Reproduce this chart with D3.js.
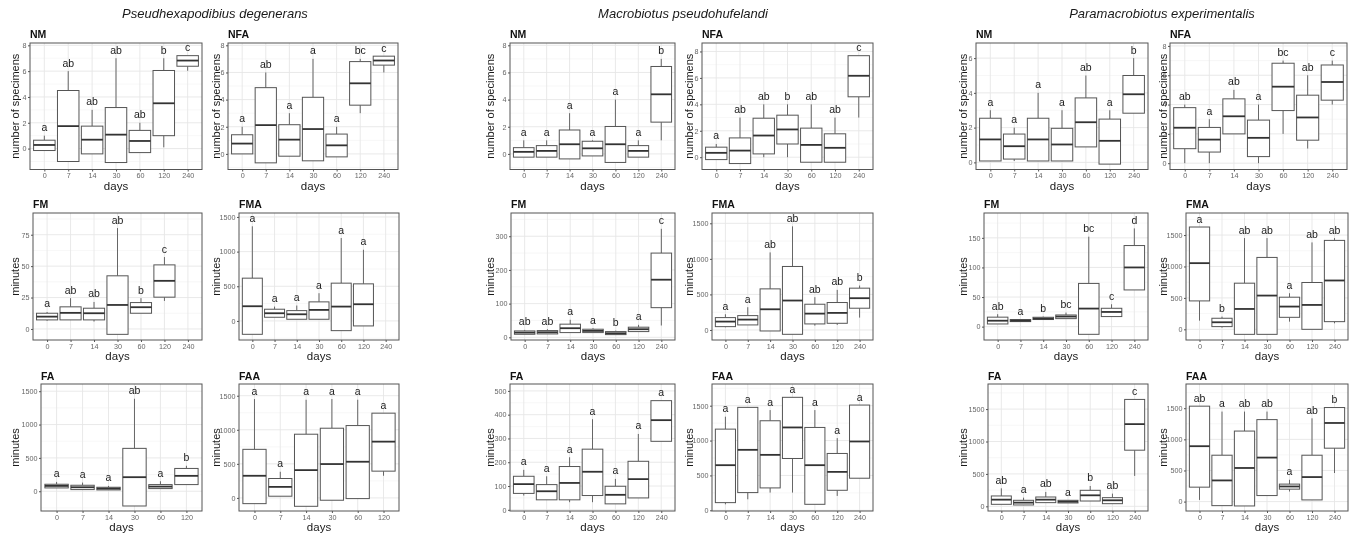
<!DOCTYPE html>
<html><head><meta charset="utf-8">
<script src="https://cdn.jsdelivr.net/npm/d3@7"></script>
<style>
body{margin:0;background:#fff}
svg{display:block;will-change:transform}
text{font-family:"Liberation Sans",Arial,sans-serif}
</style>
</head><body>
<svg id="chart" width="1352" height="538"></svg>
<script>
// ---------------- DATA ----------------
const species = ["Pseudhexapodibius degenerans", "Macrobiotus pseudohufelandi", "Paramacrobiotus experimentalis"];
const days = ["0", "7", "14", "30", "60", "120", "240"];
const days6 = ["0", "7", "14", "30", "60", "120"];
const panelTitles = [["NM", "NFA"], ["FM", "FMA"], ["FA", "FAA"]];
const yTitles = ["number of specimens", "minutes", "minutes"];
const xTitle = "days";

// tick label sets
const ticksN8 = [0, 2, 4, 6, 8];
const ticksN6 = [0, 2, 4, 6];
const ticks25 = [0, 25, 50, 75];
const ticks50 = [0, 50, 100, 150];
const ticks100 = [0, 100, 200, 300];
const ticks100b = [0, 100, 200, 300, 400, 500];
const ticks500 = [0, 500, 1000, 1500];

// each box: [whisker low (null = none), Q1, median, Q3, whisker high (null = none)]
// Pseudhexapodibius degenerans
const pd_NM = [[null,-0.15,0.28,0.65,1.0],[null,-1.0,1.74,4.5,6.0],[null,-0.41,0.69,1.74,3.0],[null,-1.08,1.08,3.18,7.0],[null,-0.31,0.59,1.41,2.0],[0.1,1.0,3.51,6.05,7.0],[6.03,6.38,6.82,7.2,null]];
const pd_NM_let = ["a","ab","ab","ab","ab","b","c"];
const pd_NFA = [[null,0,0.76,1.41,2.0],[null,-0.66,2.12,4.88,6.0],[null,-0.17,1.05,2.15,3.0],[null,-0.51,1.83,4.17,7.0],[null,-0.22,0.63,1.46,2.0],[3.0,3.59,5.2,6.8,7.0],[6.0,6.54,6.88,7.2,null]];
const pd_NFA_let = ["a","ab","a","a","a","bc","c"];
const pd_FM = [[6.5,7.2,9.8,12.5,13.5],[null,7.2,12.8,17.6,24.5],[5.9,7.2,12.5,16.5,21.5],[null,-4.3,19.1,42.3,80.3],[null,12.5,17.3,21,24.5],[22.3,25.3,38.3,51,57.2],null];
const pd_FM_let = ["a","ab","ab","ab","b","c",""];
const pd_FMA = [[null,-193,212,617,1365],[null,53,111,169,207],[null,24,96,149,222],[null,24,159,275,400],[null,-140,207,545,1196],[null,-72,241,535,1027],null];
const pd_FMA_let = ["a","a","a","a","a","a",""];
const pd_FA = [[null,50,80,105,140],[null,25,60,90,130],[null,20,40,60,80],[null,-221,211,643,1387],[null,40,70,100,150],[null,100,231,342,382]];
const pd_FA_let = ["a","a","a","ab","a","b"];
const pd_FAA = [[null,-84,325,713,1451],[null,25,162,285,384],[null,-123,408,935,1441],[null,-34,497,1023,1451],[null,-10,531,1062,1441],[325,393,826,1244,null]];
const pd_FAA_let = ["a","a","a","a","a","a"];

// Macrobiotus pseudohufelandi
const mp_NM = [[null,-0.24,0.15,0.46,1.0],[null,-0.24,0.22,0.61,1.0],[null,-0.37,0.71,1.76,3.0],[null,-0.15,0.41,0.93,1.0],[null,-0.63,0.71,2.02,4.0],[null,-0.24,0.22,0.61,1.0],[1.0,2.34,4.39,6.44,7.0]];
const mp_NM_let = ["a","a","a","a","a","a","b"];
const mp_NFA = [[null,-0.18,0.33,0.76,1.0],[null,-0.48,0.5,1.46,3.0],[0,0.25,1.64,2.95,4.0],[0,1.0,2.1,3.18,4.0],[null,-0.38,0.93,2.2,4.0],[null,-0.38,0.71,1.77,3.0],[3.0,4.57,6.16,7.68,null]];
const mp_NFA_let = ["a","ab","ab","b","ab","ab","c"];
const mp_FM = [[null,9,14,19,22],[null,10,15,20,24],[null,14,27,39,52],[null,14,19,24,27],[null,8,12,17,20],[null,17,24,30,37],[35,88,171,250,322]];
const mp_FM_let = ["ab","ab","a","a","b","a","c"];
const mp_FMA = [[38,47,118,174,221],[null,71,146,202,320],[null,-14,291,578,1091],[null,-61,414,893,1457],[61,85,230,362,461],[71,94,240,386,564],[174,306,447,588,625]];
const mp_FMA_let = ["a","a","ab","ab","ab","ab","b"];
const mp_FA = [[60,69,108,141,168],[null,42,78,106,141],[32,42,113,182,221],[32,60,160,255,381],[null,25,63,99,130],[null,50,129,204,319],[null,288,377,459,null]];
const mp_FA_let = ["a","a","a","a","a","a","a"];
const mp_FAA = [[86,110,647,1164,1342],[158,254,867,1476,null],[254,321,795,1284,1437],[254,743,1188,1620,null],[null,86,647,1188,1437],[206,287,551,815,1035],[null,460,987,1509,null]];
const mp_FAA_let = ["a","a","a","a","a","a","a"];

// Paramacrobiotus experimentalis
const pe_NM = [[null,0.08,1.32,2.54,3.0],[0.08,0.19,0.93,1.63,2.0],[null,0.08,1.32,2.54,4.0],[null,0.08,1.03,1.96,3.0],[null,0.89,2.31,3.71,5.0],[null,-0.1,1.24,2.49,3.0],[null,2.83,3.92,5.0,6.0]];
const pe_NM_let = ["a","a","a","a","ab","a","b"];
const pe_NFA = [[0,0.99,2.42,3.79,4.0],[0,0.76,1.61,2.44,3.0],[null,2.0,3.2,4.39,5.0],[0,0.45,1.73,2.94,4.0],[2.0,3.59,5.22,6.82,7.0],[1.0,1.57,3.12,4.64,6.0],[4.0,4.3,5.54,6.7,7.0]];
const pe_NFA_let = ["ab","a","ab","a","bc","ab","c"];
const pe_FM = [[null,4.5,10,16,21],[null,8.5,10,12,null],[null,12,13.5,15.8,17],[null,13.5,17,19.7,23.7],[null,-13,30.5,73,152],[null,17,24.8,31,37.8],[null,62,100,137,166]];
const pe_FM_let = ["ab","a","b","bc","bc","c","d"];
const pe_FMA = [[138,452,1053,1628,null],[27,43,112,176,202],[null,-80,324,734,1452],[null,-80,537,1144,1452],[122,191,362,511,574],[null,0,388,745,1383],[96,122,777,1415,1452]];
const pe_FMA_let = ["a","b","ab","ab","a","ab","ab"];
const pe_FA = [[null,31,103,160,278],[null,21,57,93,134],[null,57,103,144,222],[null,52,72,93,null],[null,82,170,247,314],[null,41,93,134,196],[469,866,1268,1649,null]];
const pe_FA_let = ["ab","a","ab","a","b","ab","c"];
const pe_FAA = [[27,232,890,1533,null],[null,-65,340,745,1446],[null,-70,540,1133,1446],[null,97,707,1317,1446],[162,200,243,281,351],[null,27,394,745,1338],[459,858,1263,1511,null]];
const pe_FAA_let = ["ab","a","ab","ab","a","ab","b"];

// ---------------- LAYOUT ----------------
const rows = [
  {top: 43, bottom: 169.5, titleY: 37.5},
  {top: 213, bottom: 340, titleY: 207.5},
  {top: 384, bottom: 511, titleY: 379.5}
];
const panelX = [
  [[30,202],[228,398],[510,675],[702,873],[976,1148],[1170,1347]],
  [[33,202],[239,399],[511,675],[712,873],[984,1148],[1186,1348]],
  [[41,202],[239,399],[510,675],[712,873],[988,1148],[1186,1348]]
];
const yTitleX = [15, 216, 490, 689, 963, 1163];
const speciesX = [215, 683, 1162];

const panels = [
  // row 0
  {row:0,col:0,data:pd_NM, lab:pd_NM_let, cats:days, dom:[-1.62,8.18], ticks:ticksN8},
  {row:0,col:1,data:pd_NFA,lab:pd_NFA_let,cats:days, dom:[-1.15,8.17], ticks:ticksN8},
  {row:0,col:2,data:mp_NM, lab:mp_NM_let, cats:days, dom:[-1.15,8.17], ticks:ticksN8},
  {row:0,col:3,data:mp_NFA,lab:mp_NFA_let,cats:days, dom:[-0.93,8.64], ticks:ticksN8},
  {row:0,col:4,data:pe_NM, lab:pe_NM_let, cats:days, dom:[-0.41,6.87], ticks:ticksN6},
  {row:0,col:5,data:pe_NFA,lab:pe_NFA_let,cats:days, dom:[-0.43,8.2], ticks:ticksN8},
  // row 1
  {row:1,col:0,data:pd_FM, lab:pd_FM_let, cats:days, dom:[-8.8,92.3], ticks:ticks25},
  {row:1,col:1,data:pd_FMA,lab:pd_FMA_let,cats:days, dom:[-275,1557], ticks:ticks500},
  {row:1,col:2,data:mp_FM, lab:mp_FM_let, cats:days, dom:[-8,369], ticks:ticks100},
  {row:1,col:3,data:mp_FMA,lab:mp_FMA_let,cats:days, dom:[-141,1645], ticks:ticks500},
  {row:1,col:4,data:pe_FM, lab:pe_FM_let, cats:days, dom:[-22.6,192], ticks:ticks50},
  {row:1,col:5,data:pe_FMA,lab:pe_FMA_let,cats:days, dom:[-170,1851], ticks:ticks500},
  // row 2
  {row:2,col:0,data:pd_FA, lab:pd_FA_let, cats:days6,dom:[-296,1608], ticks:ticks500},
  {row:2,col:1,data:pd_FAA,lab:pd_FAA_let,cats:days6,dom:[-192,1672], ticks:ticks500},
  {row:2,col:2,data:mp_FA, lab:mp_FA_let, cats:days, dom:[-5,529], ticks:ticks100b},
  {row:2,col:3,data:mp_FAA,lab:mp_FAA_let,cats:days, dom:[-10,1811], ticks:ticks500},
  {row:2,col:4,data:pe_FA, lab:pe_FA_let, cats:days, dom:[-72,1887], ticks:ticks500},
  {row:2,col:5,data:pe_FAA,lab:pe_FAA_let,cats:days, dom:[-151,1889], ticks:ticks500}
];

// ---------------- DRAW ----------------
const svg = d3.select("#chart");
svg.append("rect").attr("width",1352).attr("height",538).attr("fill","#fff");

species.forEach((s,i) => {
  svg.append("text").attr("x", speciesX[i]).attr("y", 18)
    .attr("text-anchor","middle").attr("font-size", 13).attr("font-style","italic")
    .attr("fill","#1a1a1a").text(s);
});

panels.forEach(p => {
  const r = rows[p.row];
  const [x0, x1] = panelX[p.row][p.col];
  const x = d3.scalePoint().domain(p.cats).range([x0, x1]).padding(0.6);
  const y = d3.scaleLinear().domain(p.dom).range([r.bottom, r.top]);
  const g = svg.append("g");
  const bw = x.step() * 0.9;

  // grid
  const step = p.ticks[1] - p.ticks[0];
  const minor = [];
  for (let v = p.ticks[0] - step / 2; v <= p.dom[1]; v += step) if (v >= p.dom[0]) minor.push(v);
  g.selectAll(".mn").data(minor).join("line")
    .attr("x1", x0).attr("x2", x1).attr("y1", d => y(d)).attr("y2", d => y(d))
    .attr("stroke", "#f2f2f2").attr("stroke-width", 0.6);
  g.selectAll(".mj").data(p.ticks.filter(t => t >= p.dom[0] && t <= p.dom[1])).join("line")
    .attr("x1", x0).attr("x2", x1).attr("y1", d => y(d)).attr("y2", d => y(d))
    .attr("stroke", "#e6e6e6").attr("stroke-width", 0.9);
  g.selectAll(".vx").data(p.cats).join("line")
    .attr("x1", d => x(d)).attr("x2", d => x(d)).attr("y1", r.top).attr("y2", r.bottom)
    .attr("stroke", "#e6e6e6").attr("stroke-width", 0.9);

  // boxes
  const items = p.data.map((d, i) => ({d, c: p.cats[i], l: p.lab[i]})).filter(o => o.d);
  const bg = g.selectAll(".bx").data(items).join("g");
  bg.filter(o => o.d[4] !== null).append("line")
    .attr("x1", o => x(o.c)).attr("x2", o => x(o.c))
    .attr("y1", o => y(o.d[3])).attr("y2", o => y(o.d[4]))
    .attr("stroke", "#666").attr("stroke-width", 1);
  bg.filter(o => o.d[0] !== null).append("line")
    .attr("x1", o => x(o.c)).attr("x2", o => x(o.c))
    .attr("y1", o => y(o.d[1])).attr("y2", o => y(o.d[0]))
    .attr("stroke", "#666").attr("stroke-width", 1);
  bg.append("rect")
    .attr("x", o => x(o.c) - bw / 2).attr("width", bw)
    .attr("y", o => y(o.d[3])).attr("height", o => Math.max(1, y(o.d[1]) - y(o.d[3])))
    .attr("fill", "#fff").attr("stroke", "#555").attr("stroke-width", 1);
  bg.append("line")
    .attr("x1", o => x(o.c) - bw / 2).attr("x2", o => x(o.c) + bw / 2)
    .attr("y1", o => y(o.d[2])).attr("y2", o => y(o.d[2]))
    .attr("stroke", "#333").attr("stroke-width", 1.8);
  bg.append("text")
    .attr("x", o => x(o.c))
    .attr("y", o => y(o.d[4] !== null ? Math.max(o.d[4], o.d[3]) : o.d[3]) - 4.5)
    .attr("text-anchor", "middle").attr("font-size", 10.5).attr("fill", "#1a1a1a")
    .text(o => o.l);

  // border
  g.append("rect").attr("x", x0).attr("y", r.top).attr("width", x1 - x0).attr("height", r.bottom - r.top)
    .attr("fill", "none").attr("stroke", "#555").attr("stroke-width", 1);

  // axes
  const ax = g.append("g").attr("transform", `translate(0,${r.bottom})`)
    .call(d3.axisBottom(x).tickSize(2).tickPadding(1.5));
  const ay = g.append("g").attr("transform", `translate(${x0},0)`)
    .call(d3.axisLeft(y).tickValues(p.ticks).tickSize(2).tickPadding(1.5).tickFormat(d3.format("d")));
  [ax, ay].forEach(a => {
    a.select(".domain").remove();
    a.selectAll(".tick line").attr("stroke", "#555");
    a.selectAll(".tick text").attr("font-size", 7.2).attr("fill", "#666")
      .style("font-family", "'Liberation Sans', Arial, sans-serif");
  });

  // titles
  g.append("text").attr("x", x0).attr("y", r.titleY)
    .attr("font-size", 10.5).attr("font-weight", "bold").attr("fill", "#111")
    .text(panelTitles[p.row][p.col % 2]);
  g.append("text").attr("x", (x0 + x1) / 2).attr("y", r.bottom + 20)
    .attr("text-anchor", "middle").attr("font-size", 11.5).attr("fill", "#1a1a1a").text(xTitle);
  const cy = (r.top + r.bottom) / 2;
  g.append("text").attr("transform", `translate(${yTitleX[p.col] + 4},${cy}) rotate(-90)`)
    .attr("text-anchor", "middle").attr("font-size", 11).attr("fill", "#1a1a1a").text(yTitles[p.row]);
});
</script>
</body></html>
